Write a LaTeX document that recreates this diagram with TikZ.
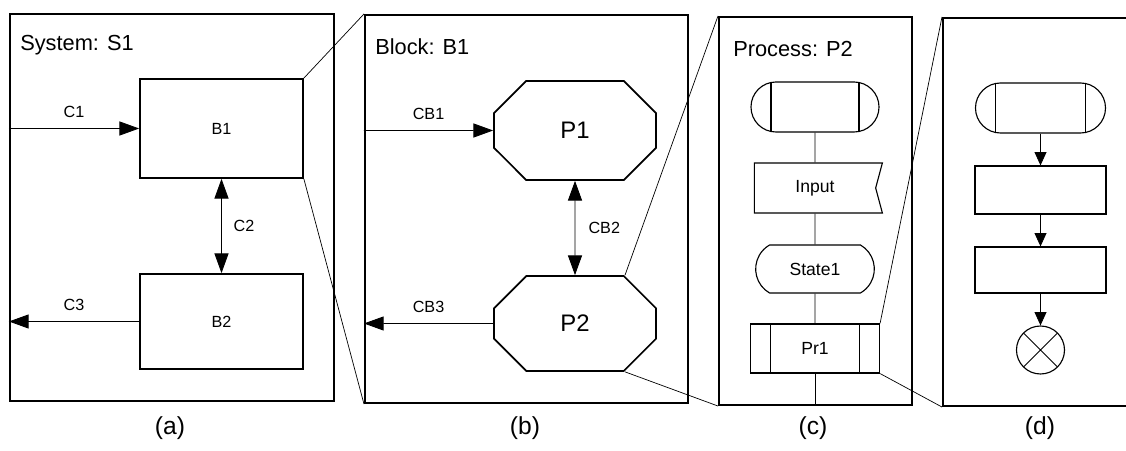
\documentclass[tikz,border=0pt]{standalone}
\usepackage{fontspec}
\setmainfont{Liberation Sans}
\usepackage{tikz}
\usetikzlibrary{arrows.meta, positioning}
\usetikzlibrary{shapes.misc, shapes.symbols}

\begin{document}
\begin{tikzpicture}[x=0.025cm, y=-0.025cm,
        >={Triangle[length=14pt, width=10pt]},
        panel/.style={draw, line width=1.4pt, inner sep=0pt},
        blk/.style={draw, line width=1.2pt, minimum width=4.075cm, font=\fontsize{11.5}{13}\selectfont},
        proc/.style={draw, chamfered rectangle, chamfered rectangle xsep=0.825cm, chamfered rectangle ysep=0.8cm,
            line width=1.2pt, minimum width=4.05cm, font=\fontsize{17}{20}\selectfont},
        sym/.style={draw, line width=0.8pt, minimum width=3.2cm, font=\fontsize{12.5}{14}\selectfont},
        bars/.style={path picture={
            \draw[line width=0.8pt]
                ([xshift=0.5cm]path picture bounding box.north west) -- ([xshift=0.5cm]path picture bounding box.south west)
                ([xshift=-0.5cm]path picture bounding box.north east) -- ([xshift=-0.5cm]path picture bounding box.south east);
        }},
        crossed/.style={path picture={
            \draw[line width=0.6pt]
                (path picture bounding box.north west) -- (path picture bounding box.south east)
                (path picture bounding box.north east) -- (path picture bounding box.south west);
        }},
        paneltitle/.style={anchor=west, inner sep=0pt, font=\fontsize{15.5}{18}\selectfont},
        caption/.style={font=\fontsize{17.5}{20}\selectfont},
        lbl/.style={font=\fontsize{11.5}{13}\selectfont},
        conn/.style={line width=0.6pt},
        flow/.style={line width=0.6pt, -{Triangle[length=9.5pt, width=8.5pt]}},
        zoomline/.style={line width=0.5pt}
    ]
    \useasboundingbox (0,0) rectangle (1126,451);
    \clip (0,0) rectangle (1126,451);

    \node[panel, minimum width=8.1cm, minimum height=9.675cm] (fa) at (172,207.5) {};
    \node[panel, minimum width=8.075cm, minimum height=9.7cm] (fb) at (526.5,209) {};
    \node[panel, minimum width=4.825cm, minimum height=9.7cm] (fc) at (815.5,211) {};
    \node[panel, minimum width=5cm, minimum height=9.7cm] (fd) at (1043,212) {};

    \node[paneltitle] (ta) at (20,45) {System: S1};
    \node[paneltitle] (tb) at (375,47) {Block: B1};
    \node[paneltitle] (tc) at (733,49) {Process: P2};

    % (a)
    \node[blk, minimum height=2.475cm] (b1) at (221.5,128.5) {B1};
    \node[blk, minimum height=2.375cm] (b2) at (221.5,321.5) {B2};
    \draw[conn, ->] (fa.west |- b1) -- node[lbl, above=4pt] {C1} (b1);
    \draw[conn, <->] (b1) -- node[lbl, right=5pt] {C2} (b2);
    \draw[conn, ->] (b2) -- node[lbl, above=4pt] {C3} (fa.west |- b2);

    % (b)
    \node[proc, minimum height=2.475cm] (p1) at (575,130.5) {P1};
    \node[proc, minimum height=2.375cm] (p2) at (575,323.5) {P2};
    \draw[conn, ->] (fb.west |- p1) -- node[lbl, above=4pt] {CB1} (p1);
    \draw[conn, <->] (p1) -- node[lbl, right=6pt] {CB2} (p2);
    \draw[conn, ->] (p2) -- node[lbl, above=4pt] {CB3} (fb.west |- p2);

    % (c)
    \node[sym, bars, rounded corners=0.625cm, minimum height=1.25cm] (st) at (815,107) {};
    \node[sym, signal, signal to=nowhere, signal from=east, signal pointer angle=150, minimum height=1.25cm] (in) at (815,188) {Input};
    \node[sym, rounded rectangle, rounded rectangle arc length=120, minimum height=1.2cm] (s1) at (815,269) {State1};
    \node[sym, bars, minimum width=3.225cm, minimum height=1.225cm] (pr) at (815,348.5) {Pr1};
    \draw[conn] (st) -- (in);
    \draw[conn] (in) -- (s1);
    \draw[conn] (s1) -- (pr);
    \draw[conn] (pr) -- (pr.south |- fc.south);

    % (d)
    \node[sym, bars, rounded corners=0.625cm, minimum width=3.25cm, minimum height=1.25cm] (sd) at (1040.5,108) {};
    \node[sym, minimum width=3.275cm, minimum height=1.2cm] (r1) at (1040.5,190) {};
    \node[sym, minimum width=3.275cm, minimum height=1.15cm] (r2) at (1040.5,270) {};
    \node[draw, circle, crossed, line width=0.8pt, minimum size=1.2cm, inner sep=0pt] (ex) at (1040.5,350) {};
    \draw[flow] (sd) -- (r1);
    \draw[flow] (r1) -- (r2);
    \draw[flow] (r2) -- (ex);

    \draw[zoomline] (b1.north east) -- (fb.north west);
    \draw[zoomline] (b1.south east) -- (fb.south west);
    \draw[zoomline] ([xshift=1.25cm]p2.north) -- (fc.north west);
    \draw[zoomline] ([xshift=1.25cm]p2.south) -- (fc.south west);
    \draw[zoomline] (pr.north east) -- (fd.north west);
    \draw[zoomline] (pr.south east) -- (fd.south west);

    \node[caption] (ca) at (170,428) {(a)};
    \node[caption] (cb) at (525,428) {(b)};
    \node[caption] (cc) at (813,428) {(c)};
    \node[caption] (cd) at (1040,428) {(d)};
\end{tikzpicture}
\end{document}
